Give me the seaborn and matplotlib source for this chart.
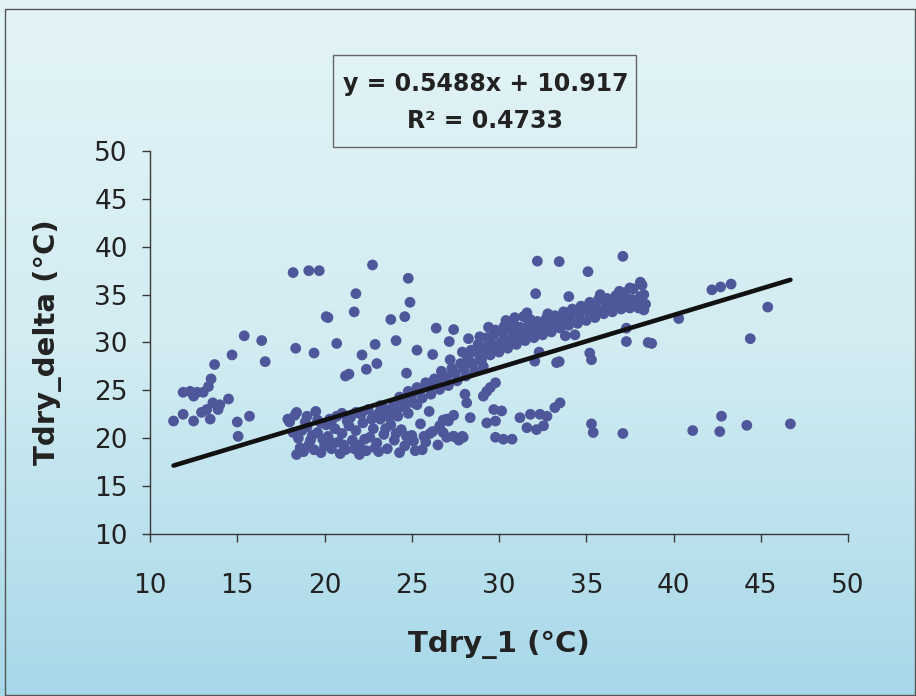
import numpy as np
import pandas as pd
import matplotlib
matplotlib.use("Agg")
import matplotlib.pyplot as plt
import seaborn as sns
from matplotlib.colors import LinearSegmentedColormap
from matplotlib.patches import Rectangle

# ---------------- data ----------------
# scattered / outlying points
tdry1_outliers = [18.2, 19.1, 19.7, 20.1, 15.4, 16.4, 14.7, 16.6, 18.35, 19.4, 13.7, 13.5,
                  11.9, 12.3, 12.7, 13.05, 13.35, 12.5, 14.5, 13.6, 14.0, 13.25, 12.95, 13.9,
                  13.45, 11.35, 11.9, 12.5, 15.0, 15.7, 15.05, 17.9, 18.4,
                  22.75, 24.8, 21.8, 24.9, 21.7, 20.2, 23.8, 24.6, 26.4, 20.7, 22.9, 24.1,
                  25.3, 26.2, 22.15, 23.0, 22.4, 21.2, 21.4, 24.7,
                  32.2, 33.45, 32.1, 27.4, 27.15, 28.25, 32.05, 33.3, 29.1, 29.3, 29.5, 29.8,
                  28.05, 28.15, 26.7, 28.35, 27.1, 29.7, 30.15, 29.3, 29.8, 31.2, 31.8, 32.35,
                  32.75, 31.6, 32.15, 32.55, 29.8, 30.25, 30.75, 26.8, 27.4, 27.95, 33.5, 33.2,
                  35.1, 37.1, 34.0, 36.9, 37.5, 38.1, 38.0, 37.3, 38.55, 37.3, 34.35, 33.8,
                  35.2, 35.3, 33.45, 35.3, 35.4, 37.1,
                  42.2, 42.7, 43.3, 45.4, 40.3, 38.75, 44.4, 42.75, 41.1, 42.65, 44.2, 46.7]
tdelta_outliers = [37.3, 37.5, 37.5, 32.7, 30.7, 30.2, 28.7, 28.0, 29.4, 28.9, 27.7, 26.2,
                   24.8, 24.9, 24.8, 24.8, 25.4, 24.4, 24.1, 23.7, 23.5, 23.0, 22.7, 23.0,
                   22.0, 21.8, 22.5, 21.8, 21.7, 22.3, 20.2, 22.0, 22.7,
                   38.1, 36.7, 35.1, 34.2, 33.2, 32.6, 32.4, 32.7, 31.5, 29.9, 29.8, 30.2,
                   29.2, 28.75, 28.7, 27.8, 27.2, 26.5, 26.7, 26.8,
                   38.5, 38.45, 35.1, 31.35, 30.1, 30.4, 28.05, 27.9, 24.4, 24.9, 25.3, 25.8,
                   24.6, 23.7, 27.0, 22.15, 21.8, 23.0, 22.85, 21.6, 21.8, 22.15, 22.5, 22.5,
                   22.3, 21.1, 20.9, 21.3, 20.1, 19.9, 19.9, 20.6, 20.2, 20.1, 23.7, 23.2,
                   37.4, 39.0, 34.8, 35.35, 35.7, 36.3, 33.6, 30.1, 30.0, 31.5, 30.8, 30.7,
                   28.9, 28.2, 28.0, 21.5, 20.6, 20.5,
                   35.5, 35.8, 36.1, 33.7, 32.5, 29.9, 30.4, 22.3, 20.8, 20.7, 21.35, 21.5]

# dense lower cluster (Tdry_1 about 18-28 C)
tdry1_lower = [18.0, 18.3, 18.5, 18.6, 18.8, 19.0, 19.2, 19.4, 19.6, 19.8, 20.0, 20.2,
               20.4, 20.6, 20.8, 21.0, 21.2, 21.4, 21.6, 21.8, 22.0, 22.2, 22.4, 22.6,
               22.8, 23.0, 23.2, 23.4, 23.6, 23.8, 24.0, 24.2, 24.4, 24.6, 24.8, 25.0,
               25.2, 25.5, 25.8, 26.0, 26.2, 26.5, 26.8, 27.0, 27.4, 27.7, 18.2, 19.0,
               19.5, 20.3, 21.0, 21.8, 22.5, 23.3, 24.0, 24.6, 20.9, 22.0, 23.1, 24.3,
               25.6, 19.8, 18.4, 24.1, 24.7, 25.1, 25.7, 26.05, 26.6, 27.0, 27.4, 27.9,
               18.7, 19.3, 19.9, 20.5, 21.1, 21.7, 22.3, 22.9, 23.5, 20.1, 20.7, 21.3,
               22.9, 23.7, 19.1, 18.9, 19.6, 20.4, 21.5, 22.1, 22.7, 23.9, 24.5, 25.3]
tdelta_lower = [21.7, 22.4, 20.0, 19.0, 18.6, 21.2, 19.8, 18.8, 20.6, 21.6, 19.2, 20.2,
                18.9, 21.0, 19.6, 20.5, 18.8, 21.3, 19.8, 20.8, 19.3, 21.6, 18.7, 20.1,
                21.0, 19.5, 22.0, 20.4, 18.9, 21.4, 19.8, 22.3, 20.9, 19.2, 22.6, 20.3,
                18.7, 21.5, 19.6, 22.8, 20.7, 19.3, 21.9, 20.1, 22.4, 19.8, 20.6, 22.3,
                22.8, 22.0, 22.6, 22.7, 23.0, 23.1, 23.4, 23.6, 18.4, 18.3, 18.6, 18.5,
                18.8, 18.5, 18.3, 20.5, 20.2, 19.7, 20.2, 20.5, 21.3, 22.0, 20.2, 20.2,
                20.8, 20.3, 19.9, 19.5, 19.3, 18.9, 19.9, 19.0, 21.0, 21.4, 22.3, 21.8,
                22.3, 22.6, 19.3, 21.7, 21.9, 21.8, 22.2, 22.5, 22.0, 22.9, 23.9, 23.5]

# rising band of points (Tdry_1 about 23-38 C)
tdry1_band = [23.1, 23.2, 23.6, 23.7, 24.0, 24.1, 24.3, 24.5, 24.6, 24.8, 25.0, 25.1,
              25.3, 25.5, 25.6, 25.8, 26.0, 26.1, 26.3, 26.5, 26.6, 26.8, 27.0, 27.1,
              27.3, 27.5, 27.6, 27.8, 28.0, 28.1, 28.2, 28.4, 28.5, 28.6, 28.7, 28.8,
              29.0, 29.1, 29.2, 29.3, 29.5, 29.6, 29.7, 29.8, 30.0, 30.1, 30.2, 30.3,
              30.5, 30.6, 30.7, 30.8, 31.0, 31.1, 31.2, 31.3, 31.5, 31.6, 31.7, 31.8,
              32.0, 32.1, 32.2, 32.3, 32.5, 32.6, 32.7, 32.8, 33.0, 33.1, 33.2, 33.5,
              33.6, 33.7, 34.0, 34.1, 34.2, 34.5, 34.6, 34.7, 35.0, 35.1, 35.2, 35.5,
              35.6, 35.7, 35.8, 36.0, 36.1, 36.2, 36.5, 36.6, 36.7, 37.0, 37.1, 37.2,
              37.5, 37.6, 37.7, 38.0, 38.1, 38.2, 38.3, 38.4, 38.3,
              27.2, 27.9, 28.9, 29.4, 30.4, 31.4, 30.9, 31.6,
              28.3, 28.9, 29.4, 29.9, 30.4, 30.9, 31.4, 31.9, 32.4, 32.9]
tdelta_band = [22.6, 23.4, 23.0, 22.2, 23.7, 22.9, 24.3, 24.0, 23.2, 24.9, 24.5, 23.7,
               25.3, 25.0, 24.2, 25.8, 25.4, 24.6, 26.2, 25.8, 25.1, 26.6, 26.4, 25.5,
               27.3, 26.8, 26.0, 27.8, 27.3, 26.5, 28.5, 29.2, 27.8, 27.0, 29.0, 29.8,
               28.2, 27.5, 29.5, 30.5, 28.7, 29.8, 30.8, 31.3, 29.0, 30.0, 31.0, 31.7,
               29.4, 30.3, 31.3, 32.0, 29.8, 30.7, 31.6, 31.0, 30.2, 31.0, 31.9, 32.4,
               30.5, 31.3, 32.2, 29.0, 30.8, 31.6, 32.5, 33.0, 31.1, 32.0, 32.8, 31.5,
               32.3, 33.2, 31.8, 32.7, 33.5, 32.0, 33.0, 33.8, 32.3, 33.3, 34.2, 32.6,
               33.5, 34.5, 35.0, 33.0, 33.8, 34.6, 33.2, 34.0, 34.9, 33.5, 34.3, 35.2,
               33.6, 34.5, 35.6, 33.8, 34.8, 36.0, 33.4, 34.0, 35.0,
               28.2, 29.0, 30.6, 31.6, 32.3, 32.7, 32.6, 33.1,
               28.1, 28.6, 29.1, 29.5, 29.9, 30.2, 30.6, 31.0, 31.4, 31.7]

# Excel linear trendline shown in the chart
trend_slope = 0.5488
trend_intercept = 10.917
r_squared = 0.4733

x_ticks = [10, 15, 20, 25, 30, 35, 40, 45, 50]
y_ticks = [10, 15, 20, 25, 30, 35, 40, 45, 50]

df = pd.DataFrame({
    "Tdry_1": tdry1_outliers + tdry1_lower + tdry1_band,
    "Tdry_delta": tdelta_outliers + tdelta_lower + tdelta_band,
})

# ---------------- figure ----------------
sns.set_theme(style="white")
plt.rcParams["font.family"] = ["DejaVu Sans"]

W, H = 916, 696
fig = plt.figure(figsize=(W / 100, H / 100), dpi=100)

# gradient background
bg = fig.add_axes([0, 0, 1, 1], zorder=0)
grad = np.linspace(0, 1, 256).reshape(-1, 1)
cmap = LinearSegmentedColormap.from_list("bg", ["#e3f4f7", "#d2ecf2", "#a7d8e9"])
bg.imshow(grad, aspect="auto", cmap=cmap, extent=[0, 1, 0, 1], origin="upper")
bg.set_axis_off()

# frame around the chart area
fig.patches.append(Rectangle((5 / W, 1 / H), 910 / W, 686 / H, transform=fig.transFigure,
                             fill=False, edgecolor="#555555", linewidth=1.0, zorder=5))

ax = fig.add_axes([150 / W, (H - 534) / H, 698 / W, 383 / H], zorder=1)
ax.set_facecolor("none")

sns.scatterplot(data=df, x="Tdry_1", y="Tdry_delta", ax=ax, s=60, color="#4e5799",
                edgecolor="none", linewidth=0, legend=False, zorder=2)

xr = np.array([df["Tdry_1"].min(), df["Tdry_1"].max()])
ax.plot(xr, trend_slope * xr + trend_intercept, color="#111111", lw=3.3,
        solid_capstyle="round", zorder=3)

ax.set_xlim(10, 50)
ax.set_ylim(10, 50)
ax.set_xticks(x_ticks)
ax.set_yticks(y_ticks)
ax.set_xticklabels([str(t) for t in x_ticks])
ax.set_yticklabels([str(t) for t in y_ticks])

for s in ["top", "right"]:
    ax.spines[s].set_visible(False)
for s in ["left", "bottom"]:
    ax.spines[s].set_color("#3a3a3a")
    ax.spines[s].set_linewidth(1.0)

ax.tick_params(axis="both", which="major", direction="out", length=6, width=1,
               color="#3a3a3a", labelsize=19, labelcolor="#222222",
               bottom=True, left=True, top=False, right=False)
ax.tick_params(axis="x", pad=22)
ax.tick_params(axis="y", pad=10)

ax.set_xlabel("Tdry_1 (°C)", fontsize=21, fontweight="bold", color="#222222")
ax.set_ylabel("Tdry_delta (°C)", fontsize=21, fontweight="bold", color="#222222")
ax.xaxis.set_label_coords(0.5, (534 - 630) / 383)
ax.yaxis.set_label_coords((62 - 150) / 698, 0.5)

# equation box
fig.patches.append(Rectangle((333 / W, 1 - 147 / H), 303 / W, 92 / H, transform=fig.transFigure,
                             fill=False, edgecolor="#666666", linewidth=1.0, zorder=5))
fig.text(486 / W, 1 - 84 / H, f"y = {trend_slope}x + {trend_intercept}", ha="center",
         va="center", fontsize=17, fontweight="bold", color="#222222", zorder=6)
fig.text(485 / W, 1 - 121 / H, f"R² = {r_squared}", ha="center", va="center",
         fontsize=17, fontweight="bold", color="#222222", zorder=6)

fig.savefig("out.png", dpi=100)
